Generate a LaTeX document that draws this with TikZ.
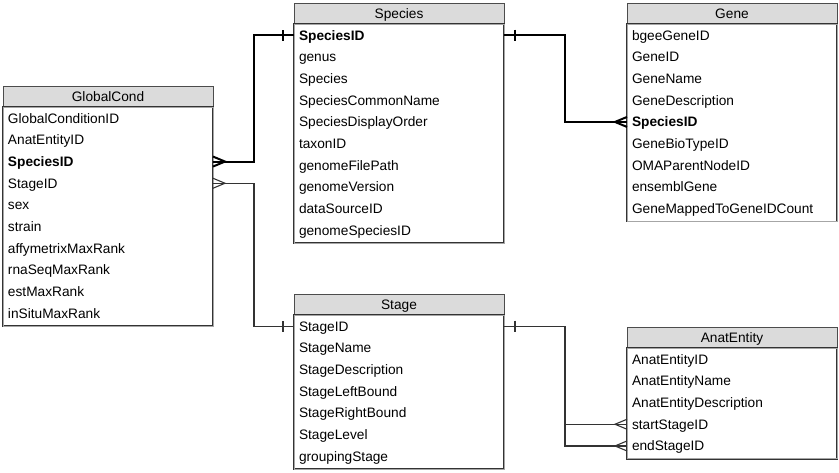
\documentclass[tikz,border=0pt]{standalone}
\usepackage{fontspec}
\setmainfont{Liberation Sans}
\usetikzlibrary{calc}
\tikzset{
  hdr/.style={draw=black!70, fill=black!14, line width=0.6pt, minimum width=210pt, minimum height=21.3pt, inner sep=0pt, outer sep=0pt, text height=12.8pt, text depth=3pt},
  row/.style={inner xsep=5pt, inner ysep=0pt, outer sep=0pt, text width=200pt, align=left, minimum height=21.7pt, text height=12.8pt, text depth=3pt},
  body/.style={draw=black!80, line width=0.5pt, double=black!35, double distance=0.7pt},
  thickconn/.style={draw=black, line width=2pt},
  thinconn/.style={draw=black!80, line width=1.1pt},
  crow/.pic={\draw[pic actions] (0,-5) -- (12,0) -- (0,5);},
  onetick/.pic={\draw[pic actions] (11,-5.5) -- (11,5.5);}
}
\newcommand\ertable[6]{%
  \node[hdr, anchor=north west] (#1) at (#2,#3) {#4};
  \foreach \r [count=\i] in {#6} {
    \node[row, anchor=north west] (#1-\i) at ([yshift={-(\i-1)*21.7pt}]#1.south west) {\r};
  }
  \draw[body] (#1.south west) rectangle ($(#1-#5.south east)+(0,2)$);
}
\begin{document}
\begin{tikzpicture}[x=1pt, y=-1pt, font=\fontsize{13.7}{16}\selectfont]
\useasboundingbox (0,0) rectangle (839,472);

\ertable{gc}{3}{86}{GlobalCond}{10}{GlobalConditionID,AnatEntityID,{\textbf{SpeciesID}},StageID,sex,strain,affymetrixMaxRank,rnaSeqMaxRank,estMaxRank,inSituMaxRank}
\ertable{sp}{294}{3}{Species}{10}{{\textbf{SpeciesID}},genus,Species,SpeciesCommonName,SpeciesDisplayOrder,taxonID,genomeFilePath,genomeVersion,dataSourceID,genomeSpeciesID}
\ertable{ge}{627}{3}{Gene}{9}{bgeeGeneID,GeneID,GeneName,GeneDescription,{\textbf{SpeciesID}},GeneBioTypeID,OMAParentNodeID,ensemblGene,GeneMappedToGeneIDCount}
\ertable{st}{294}{294}{Stage}{7}{StageID,StageName,StageDescription,StageLeftBound,StageRightBound,StageLevel,groupingStage}
\ertable{ae}{627}{327}{AnatEntity}{5}{AnatEntityID,AnatEntityName,AnatEntityDescription,startStageID,endStageID}

% Species -> GlobalCond
\draw[thickconn] (sp-1.west) -- ++(-40,0) |- (gc-3.east);
\pic[thickconn, rotate=180] at (sp-1.west) {onetick};
\pic[thickconn] at (gc-3.east) {crow};
% Species -> Gene
\draw[thickconn] (sp-1.east) -- ++(61,0) |- (ge-5.west);
\pic[thickconn] at (sp-1.east) {onetick};
\pic[thickconn, rotate=180] at (ge-5.west) {crow};
% Stage -> GlobalCond
\draw[thinconn] (gc-4.east) -- ++(41,0) |- (st-1.west);
\pic[thinconn] at (gc-4.east) {crow};
\pic[thinconn, rotate=180] at (st-1.west) {onetick};
% Stage -> AnatEntity
\draw[thinconn] (st-1.east) -- ++(61,0) |- (ae-4.west);
\draw[thinconn] (st-1.east) -- ++(61,0) |- (ae-5.west);
\pic[thinconn] at (st-1.east) {onetick};
\pic[thinconn, rotate=180] at (ae-4.west) {crow};
\pic[thinconn, rotate=180] at (ae-5.west) {crow};
\end{tikzpicture}
\end{document}
